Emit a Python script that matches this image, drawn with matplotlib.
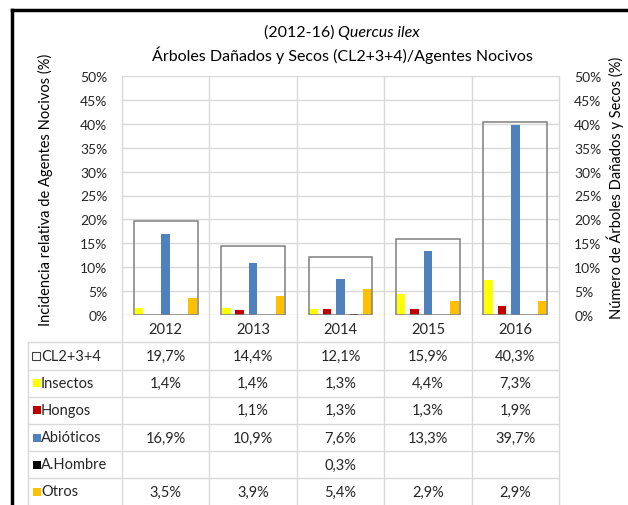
import matplotlib
matplotlib.use("Agg")
import matplotlib.pyplot as plt
from matplotlib.lines import Line2D
import numpy as np

plt.rcParams['font.family'] = ['Lato', 'DejaVu Sans']

years = ["2012", "2013", "2014", "2015", "2016"]
cl234 = [19.7, 14.4, 12.1, 15.9, 40.3]
insectos = [1.4, 1.4, 1.3, 4.4, 7.3]
hongos = [None, 1.1, 1.3, 1.3, 1.9]
abioticos = [16.9, 10.9, 7.6, 13.3, 39.7]
hombre = [None, None, 0.3, None, None]
otros = [3.5, 3.9, 5.4, 2.9, 2.9]

series = [("Insectos", insectos, "#FFFF00"),
          ("Hongos", hongos, "#C00000"),
          ("Abióticos", abioticos, "#4F81BD"),
          ("A.Hombre", hombre, "#000000"),
          ("Otros", otros, "#FFC000")]

W, H = 628, 506
fig = plt.figure(figsize=(W / 100, H / 100), dpi=100)
L, R, T, B = 122, 559, 77, 316
ax = fig.add_axes([L / W, 1 - B / H, (R - L) / W, (B - T) / H])
ax.set_xlim(-0.5, 4.5)
ax.set_ylim(0, 50)
ax2 = ax.twinx()
ax2.set_ylim(0, 50)

tc = "#262626"
ticks = np.arange(0, 51, 5)
for a in (ax, ax2):
    for s in a.spines.values():
        s.set_visible(False)
    a.set_yticks(ticks)
    a.set_yticklabels([f"{t}%" for t in ticks])
    a.tick_params(axis='y', length=0, labelsize=10, colors=tc)
ax.tick_params(axis='y', pad=10.5)
ax2.tick_params(axis='y', pad=11)
ax.set_xticks([])

grid = "#D9D9D9"
for t in ticks:
    ax.axhline(t, color=grid, lw=1, zorder=0)

x = np.arange(len(years))
# CL2+3+4 boxes (secondary axis)
ax2.bar(x, cl234, width=0.73, facecolor="none", edgecolor="#7F7F7F", lw=1.1, zorder=1)

spacing = 0.153
bw = 0.098
for k, (name, vals, col) in enumerate(series):
    off = (k - 2) * spacing
    xs = [xi + off for xi, v in zip(x, vals) if v is not None]
    vs = [v for v in vals if v is not None]
    ax.bar(xs, vs, width=bw, color=col, zorder=3)

# table
trans = ax.get_xaxis_transform()
def yf(py):
    return (B - py) / (B - T)
def xd(px):
    return -0.5 + (px - L) / ((R - L) / 5)

rows = [("CL2+3+4", cl234, None)] + [(n, v, c) for n, v, c in series]
row_edges = [343, 370.5, 397.5, 425, 452, 479, 506]
for py in row_edges[:-1]:
    ax.add_line(Line2D([xd(28), 4.5], [yf(py), yf(py)], transform=trans, color=grid, lw=1, clip_on=False))
ax.add_line(Line2D([xd(28), xd(28)], [yf(343), yf(510)], transform=trans, color=grid, lw=1, clip_on=False))
for b in np.arange(-0.5, 5, 1):
    ax.add_line(Line2D([b, b], [1, yf(510)], transform=trans, color=grid, lw=1, clip_on=False, zorder=0))

for i, yr in enumerate(years):
    ax.text(i, yf(330), yr, transform=trans, ha='center', va='center', fontsize=10.5, color=tc, clip_on=False)

for r, (name, vals, col) in enumerate(rows):
    yc = yf((row_edges[r] + row_edges[r + 1]) / 2)
    if col is None:
        ax.plot([xd(36)], [yc], marker='s', ms=6, mfc='white', mec='#404040', mew=0.8,
                transform=trans, clip_on=False)
    else:
        ax.plot([xd(37)], [yc], marker='s', ms=6, mfc=col, mec=col, mew=0,
                transform=trans, clip_on=False)
    ax.text(xd(41), yc, name, transform=trans, ha='left', va='center', fontsize=10.5, color=tc, clip_on=False)
    for i, v in enumerate(vals):
        if v is not None:
            ax.text(i, yc, f"{v:.1f}%".replace(".", ","), transform=trans, ha='center', va='center',
                    fontsize=10.5, color=tc, clip_on=False)

# axis labels
fig.text(45 / W, 1 - 190 / H, "Incidencia relativa de Agentes Nocivos (%)", rotation=90,
         ha='center', va='center', fontsize=10.5, color="#000000")
fig.text(615 / W, 1 - 188 / H, "Número de Árboles Dañados y Secos (%)", rotation=90,
         ha='center', va='center', fontsize=10.5, color="#000000")

# title
cx = 342
t1 = fig.text(0, 1 - 33 / H, "(2012-16) ", ha='left', va='center', fontsize=11.5, color="#000000")
t2 = fig.text(0, 1 - 33 / H, "Quercus ilex", ha='left', va='center', fontsize=11.5, style='italic', color="#000000")
fig.canvas.draw()
r = fig.canvas.get_renderer()
w1 = t1.get_window_extent(r).width
w2 = t2.get_window_extent(r).width
start = cx - (w1 + w2) / 2
t1.set_x(start / W)
t2.set_x((start + w1) / W)
fig.text(cx / W, 1 - 55 / H, "Árboles Dañados y Secos (CL2+3+4)/Agentes Nocivos", ha='center', va='center',
         fontsize=11.5, color="#000000")

# outer frame
fig.add_artist(Line2D([12 / W, 12 / W], [0, 1 - 11 / H], transform=fig.transFigure, color='black', lw=2.5))
fig.add_artist(Line2D([12 / W, 1], [1 - 11 / H, 1 - 11 / H], transform=fig.transFigure, color='black', lw=2.5))

fig.savefig("out.png", dpi=100, facecolor='white')
